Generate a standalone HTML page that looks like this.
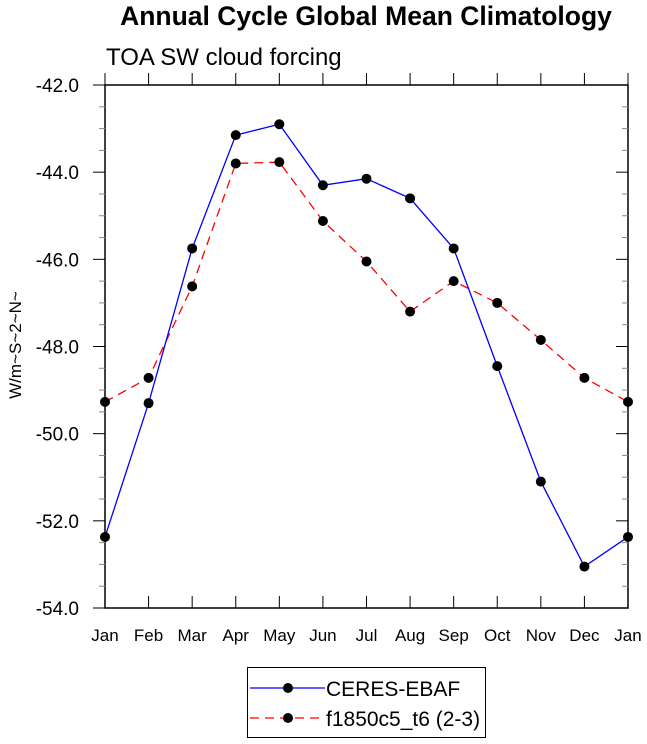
<!DOCTYPE html>
<html><head><meta charset="utf-8"><style>
body{margin:0;background:#fff;}
svg{display:block;font-family:"Liberation Sans",sans-serif;}
</style></head><body>
<svg id="chart" width="647" height="744">
<text x="366" y="25" text-anchor="middle" font-size="26.5" font-weight="bold">Annual Cycle Global Mean Climatology</text>
<text x="106" y="65" font-size="24">TOA SW cloud forcing</text>
<text transform="translate(21,345) rotate(-90)" text-anchor="middle" font-size="17">W/m~S~2~N~</text>
<g id="axes"></g>
<g id="series"></g>
<g>
<rect x="247.5" y="667.5" width="238" height="70" fill="none" stroke="#000"/>
<g>
<line x1="250" y1="688" x2="325" y2="688" stroke="#00f" stroke-width="1.3"/>
<circle cx="288" cy="688" r="5" fill="#000"/>
<text x="326" y="696" font-size="21">CERES-EBAF</text></g>
<g>
<line x1="250" y1="718" x2="325" y2="718" stroke="#f00" stroke-width="1.3" stroke-dasharray="9,6"/>
<circle cx="288" cy="718" r="5" fill="#000"/>
<text x="326" y="726" font-size="21">f1850c5_t6 (2-3)</text></g>
</g>
</svg>
<script>
const months=["Jan","Feb","Mar","Apr","May","Jun","Jul","Aug","Sep","Oct","Nov","Dec","Jan"];
const ceres=[-52.37,-49.3,-45.75,-43.15,-42.9,-44.3,-44.15,-44.6,-45.75,-48.45,-51.1,-53.05,-52.37];
const model=[-49.27,-48.72,-46.62,-43.8,-43.77,-45.12,-46.05,-47.2,-46.5,-47.0,-47.85,-48.72,-49.27];
const yTicks=[-42,-44,-46,-48,-50,-52,-54];
const L=105,R=628,T=85,B=608,yMax=-42,yMin=-54;
const xs=i=>L+i*(R-L)/12;
const ys=v=>T+(yMax-v)/(yMax-yMin)*(B-T);
const NS="http://www.w3.org/2000/svg";
function mk(tag,attrs,parent){const e=document.createElementNS(NS,tag);for(const k in attrs)e.setAttribute(k,attrs[k]);parent.appendChild(e);return e;}
const ax=document.getElementById('axes');
const frame=mk('rect',{x:L,y:T,width:R-L,height:B-T,fill:'none',stroke:'#000','stroke-width':1.5},ax);


months.forEach((m,i)=>{const x=xs(i);
 mk('line',{x1:x,y1:T,x2:x,y2:T-12,stroke:'#000'},ax);
 mk('line',{x1:x,y1:B,x2:x,y2:B-12,stroke:'#000'},ax);
 const t=mk('text',{x:x,y:B+33,'text-anchor':'middle','font-size':17},ax);t.textContent=m;
 
 
});
for(let v=yMax;v>=yMin-0.01;v-=0.5){const y=ys(v);const major=Math.abs(v-Math.round(v/2)*2)<0.01;
 mk('line',{x1:L,y1:y,x2:L-(major?12:6),y2:y,stroke:major?'#000':'#888'},ax);
 mk('line',{x1:R,y1:y,x2:R-(major?12:6),y2:y,stroke:major?'#000':'#888'},ax);}
yTicks.forEach(v=>{const t=mk('text',{x:79,y:ys(v)+7,'text-anchor':'end','font-size':19},ax);t.textContent=v.toFixed(1);
 
 });
const sg=document.getElementById('series');
function draw(data,color,dash,name){
 const g=mk('g',{},sg);
 
 
 mk('polyline',{points:data.map((v,i)=>xs(i)+','+ys(v)).join(' '),fill:'none',stroke:color,'stroke-width':1.3,'stroke-dasharray':dash},g);
 data.forEach((v,i)=>mk('circle',{cx:xs(i),cy:ys(v),r:5,fill:'#000'},g));
}
draw(model,'#f00','9,6','series-model');
draw(ceres,'#00f','none','series-ceres');
</script>
</body></html>
